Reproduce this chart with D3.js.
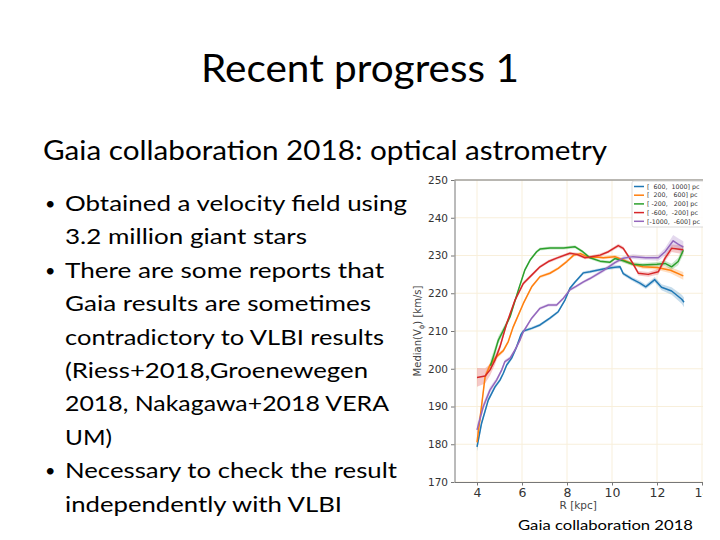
<!DOCTYPE html>
<html>
<head>
<meta charset="utf-8">
<script src="https://cdn.jsdelivr.net/npm/d3@7"></script>
<style>
  body { margin: 0; background: #fff; }
  svg { display: block; }
</style>
</head>
<body>
<svg id="slide" width="720" height="540"></svg>
<script>
// ---- slide text ----
const titleText = 'Recent progress 1';
const subtitleText = 'Gaia collaboration 2018: optical astrometry';
const bulletLines = [
  ['Obtained a velocity field using', true],
  ['3.2 million giant stars', false],
  ['There are some reports that', true],
  ['Gaia results are sometimes', false],
  ['contradictory to VLBI results', false],
  ['(Riess+2018,Groenewegen', false],
  ['2018, Nakagawa+2018 VERA', false],
  ['UM)', false],
  ['Necessary to check the result', true],
  ['independently with VLBI', false]
];
const creditText = 'Gaia collaboration 2018';

// ---- chart data ----
const seriesNames = ['[  600,  1000] pc', '[  200,   600] pc', '[ -200,   200] pc', '[ -600,  -200] pc', '[-1000,  -600] pc'];
const seriesColors = ['#1f77b4', '#ff7f0e', '#2ca02c', '#d62728', '#9467bd'];

const blueR = [4.0, 4.2, 4.5, 4.8, 5.02, 5.17, 5.32, 5.54, 5.76, 5.95, 6.06, 6.43, 6.8, 7.24, 7.61, 7.91, 8.13, 8.36, 8.73, 9.02, 9.61, 10.13, 10.36, 10.5, 10.88, 11.24, 11.5, 11.9, 12.2, 12.65, 13.1, 13.2];
const blueV = [179.3, 185.5, 191.7, 195.2, 197.0, 198.8, 201.0, 202.8, 205.8, 209.0, 210.0, 210.7, 211.6, 213.4, 215.1, 218.2, 221.3, 223.0, 225.4, 225.7, 226.4, 226.9, 227.0, 225.2, 223.8, 222.7, 221.7, 223.6, 221.6, 220.6, 218.4, 217.6];
const blueE = [1.2, 0.8, 0.6, 0.5, 0.5, 0.5, 0.5, 0.5, 0.5, 0.4, 0.4, 0.4, 0.4, 0.4, 0.4, 0.4, 0.4, 0.4, 0.4, 0.4, 0.4, 0.5, 0.5, 0.5, 0.5, 0.6, 0.6, 0.7, 0.8, 1.0, 1.2, 1.3];

const orangeR = [4.0, 4.2, 4.36, 4.58, 4.87, 5.17, 5.39, 5.61, 6.06, 6.43, 6.8, 7.24, 7.61, 7.99, 8.3, 8.6, 8.96, 9.33, 9.61, 10.13, 10.5, 10.93, 11.37, 12.0, 12.6, 13.17];
const orangeV = [180.5, 190.0, 197.9, 201.0, 203.2, 204.8, 207.2, 211.1, 217.3, 221.7, 224.4, 225.3, 226.6, 228.4, 230.1, 230.5, 229.5, 229.6, 229.4, 229.7, 228.8, 227.7, 227.0, 226.8, 226.1, 224.6];
const orangeE = [2.0, 1.2, 1.0, 0.8, 0.6, 0.5, 0.5, 0.5, 0.4, 0.4, 0.4, 0.4, 0.4, 0.4, 0.4, 0.4, 0.4, 0.4, 0.4, 0.4, 0.5, 0.5, 0.5, 0.6, 0.8, 1.0];

const greenR = [4.6, 4.78, 4.95, 5.2, 5.47, 5.84, 6.13, 6.36, 6.65, 6.8, 7.25, 7.85, 8.36, 8.7, 9.02, 9.47, 9.9, 10.13, 10.5, 10.93, 11.37, 12.0, 12.36, 12.65, 12.94, 13.17];
const greenV = [200.8, 204.2, 207.6, 210.5, 213.8, 220.9, 226.2, 228.8, 231.0, 231.7, 232.0, 232.0, 232.3, 231.0, 229.4, 228.5, 228.2, 229.2, 228.6, 227.7, 227.5, 227.7, 227.9, 227.0, 228.4, 231.4];
const greenE = [1.5, 1.2, 1.0, 0.8, 0.6, 0.5, 0.5, 0.4, 0.4, 0.4, 0.4, 0.4, 0.4, 0.4, 0.4, 0.4, 0.4, 0.4, 0.5, 0.5, 0.5, 0.6, 0.7, 0.8, 1.0, 1.2];

const redR = [4.0, 4.36, 4.58, 4.8, 5.02, 5.32, 5.69, 6.06, 6.43, 6.8, 7.17, 7.54, 8.13, 8.44, 8.8, 9.02, 9.47, 9.84, 10.28, 10.5, 10.88, 11.17, 11.61, 12.06, 12.36, 12.65, 13.17];
const redV = [197.7, 198.1, 199.7, 202.3, 205.8, 212.0, 218.2, 222.6, 224.8, 227.0, 228.4, 229.3, 230.6, 230.3, 229.4, 229.6, 230.1, 231.0, 232.6, 231.9, 228.4, 225.3, 225.0, 225.7, 229.3, 231.9, 231.5];
const redE = [2.5, 2.0, 1.5, 1.2, 0.8, 0.6, 0.5, 0.5, 0.4, 0.4, 0.4, 0.4, 0.4, 0.4, 0.4, 0.4, 0.4, 0.4, 0.5, 0.5, 0.5, 0.6, 0.6, 0.7, 0.8, 1.0, 1.2];

const purpleR = [4.0, 4.28, 4.58, 4.87, 5.1, 5.24, 5.47, 5.69, 5.91, 6.06, 6.43, 6.8, 7.17, 7.54, 7.84, 8.13, 8.4, 8.73, 9.02, 9.61, 10.13, 10.5, 10.93, 11.5, 12.06, 12.36, 12.72, 12.94, 13.17];
const purpleV = [183.8, 190.0, 194.4, 197.0, 199.7, 201.9, 202.8, 205.0, 207.6, 209.8, 213.4, 216.0, 216.9, 216.9, 218.7, 220.9, 221.8, 223.0, 223.9, 226.0, 228.1, 229.3, 229.7, 229.4, 229.4, 231.0, 233.9, 233.0, 232.2];
const purpleE = [1.5, 1.0, 0.8, 0.6, 0.5, 0.5, 0.5, 0.5, 0.5, 0.4, 0.4, 0.4, 0.4, 0.4, 0.4, 0.4, 0.4, 0.4, 0.4, 0.5, 0.5, 0.5, 0.6, 0.6, 0.8, 1.0, 1.5, 1.6, 1.6];

const xTicks = [4, 6, 8, 10, 12, 14];
const yTicks = [170, 180, 190, 200, 210, 220, 230, 240, 250];

const allR = [blueR, orangeR, greenR, redR, purpleR];
const allV = [blueV, orangeV, greenV, redV, purpleV];
const allE = [blueE, orangeE, greenE, redE, purpleE];

const slideFont = 'Lato, "Open Sans", sans-serif';
const plotFont = '"DejaVu Sans", sans-serif';

svg = d3.select('#slide');

// ---- slide text ----
svg.append('text')
  .attr('x', 360)
  .attr('y', 82)
  .attr('text-anchor', 'middle')
  .attr('textLength', 318)
  .attr('lengthAdjust', 'spacingAndGlyphs')
  .style('font-family', slideFont)
  .style('font-size', '38px')
  .style('fill', '#000')
  .text(titleText);

svg.append('text')
  .attr('x', 43)
  .attr('y', 160)
  .attr('textLength', 564)
  .attr('lengthAdjust', 'spacingAndGlyphs')
  .style('font-family', slideFont)
  .style('font-size', '27px')
  .style('fill', '#000')
  .text(subtitleText);

const lineWidths = [342, 242, 319, 306, 319, 303, 324, 47, 332, 277];
bulletLines.forEach(function(d, i){
  const y = 211 + i * 33.4;
  if(d[1]){
    svg.append('text')
      .attr('x', 45)
      .attr('y', y - 1)
      .style('font-family', slideFont)
      .style('font-size', '18px')
      .text('\u2022');
  }
  svg.append('text')
    .attr('x', 65)
    .attr('y', y)
    .attr('textLength', lineWidths[i])
    .attr('lengthAdjust', 'spacingAndGlyphs')
    .style('font-family', slideFont)
    .style('font-size', '22px')
    .style('fill', '#000')
    .text(d[0]);
});

svg.append('text')
  .attr('x', 518)
  .attr('y', 530)
  .attr('textLength', 175)
  .attr('lengthAdjust', 'spacingAndGlyphs')
  .style('font-family', slideFont)
  .style('font-size', '14px')
  .style('fill', '#000')
  .text(creditText);

// ---- chart ----
svg.append('defs')
  .append('clipPath')
  .attr('id', 'chart-clip')
  .append('rect')
  .attr('x', 395)
  .attr('y', 165)
  .attr('width', 308)
  .attr('height', 350);

const chart = svg.append('g')
  .attr('clip-path', 'url(#chart-clip)');

scaleX = d3.scaleLinear().domain([3, 14]).range([454.5, 702]);
scaleY = d3.scaleLinear().domain([170, 250]).range([482, 180]);

// grid
chart.append('g')
  .selectAll('line')
  .data(xTicks)
  .join('line')
  .attr('x1', function(d){ return scaleX(d); })
  .attr('x2', function(d){ return scaleX(d); })
  .attr('y1', scaleY(170))
  .attr('y2', scaleY(250))
  .style('stroke', '#f8efdb')
  .style('stroke-width', 1);

chart.append('g')
  .selectAll('line')
  .data(yTicks)
  .join('line')
  .attr('x1', scaleX(3))
  .attr('x2', scaleX(14) + 10)
  .attr('y1', function(d){ return scaleY(d); })
  .attr('y2', function(d){ return scaleY(d); })
  .style('stroke', '#f8efdb')
  .style('stroke-width', 1);

// bands then lines
const plotArea = chart.append('g');
allR.forEach(function(rs, s){
  const pts = rs.map(function(r, i){ return {r: r, v: allV[s][i], e: allE[s][i]}; });
  plotArea.append('path')
    .datum(pts)
    .attr('d', d3.area()
      .x(function(d){ return scaleX(d.r); })
      .y0(function(d){ return scaleY(d.v - d.e); })
      .y1(function(d){ return scaleY(d.v + d.e); }))
    .style('fill', seriesColors[s])
    .style('opacity', 0.25);
});
allR.forEach(function(rs, s){
  const pts = rs.map(function(r, i){ return {r: r, v: allV[s][i]}; });
  plotArea.append('path')
    .datum(pts)
    .attr('d', d3.line()
      .x(function(d){ return scaleX(d.r); })
      .y(function(d){ return scaleY(d.v); }))
    .style('fill', 'none')
    .style('stroke', seriesColors[s])
    .style('stroke-width', 1.5)
    .style('stroke-linejoin', 'round');
});

// axes
const xAxis = chart.append('g')
  .attr('transform', 'translate(0,' + scaleY(170) + ')')
  .call(d3.axisBottom(scaleX).tickValues(xTicks).tickSize(3.5).tickPadding(3).tickSizeOuter(0));
xAxis.selectAll('text')
  .style('font-family', plotFont)
  .style('font-size', '12.5px')
  .style('fill', '#333');

const yAxis = chart.append('g')
  .attr('transform', 'translate(' + scaleX(3) + ',0)')
  .call(d3.axisLeft(scaleY).tickValues(yTicks).tickSize(3.5).tickPadding(3).tickSizeOuter(0));
yAxis.selectAll('text')
  .style('font-family', plotFont)
  .style('font-size', '10.5px')
  .style('fill', '#333');

chart.selectAll('.domain, .tick line')
  .style('stroke', '#777');

chart.append('line')
  .attr('x1', scaleX(3))
  .attr('x2', scaleX(14) + 10)
  .attr('y1', scaleY(250))
  .attr('y2', scaleY(250))
  .style('stroke', '#777');

chart.append('text')
  .attr('x', (scaleX(3) + scaleX(14)) / 2)
  .attr('y', 509)
  .attr('text-anchor', 'middle')
  .style('font-family', plotFont)
  .style('font-size', '10.5px')
  .style('fill', '#444')
  .text('R [kpc]');

const yLab = chart.append('text')
  .attr('transform', 'translate(421,' + ((scaleY(170) + scaleY(250)) / 2) + ') rotate(-90)')
  .attr('text-anchor', 'middle')
  .style('font-family', plotFont)
  .style('font-size', '10px')
  .style('fill', '#444');
yLab.append('tspan').text('Median(V');
yLab.append('tspan').attr('dy', 2.5).style('font-size', '7px').text('\u03d5');
yLab.append('tspan').attr('dy', -2.5).text(') [km/s]');

// legend
const legend = chart.append('g');
legend.append('rect')
  .attr('x', 632)
  .attr('y', 181)
  .attr('width', 80)
  .attr('height', 46)
  .attr('rx', 2)
  .style('fill', '#fff')
  .style('fill-opacity', 0.85)
  .style('stroke', '#d0d0d0')
  .style('stroke-width', 0.8);

seriesNames.forEach(function(name, i){
  const y = 186.5 + i * 8.7;
  legend.append('line')
    .attr('x1', 634)
    .attr('x2', 644)
    .attr('y1', y)
    .attr('y2', y)
    .style('stroke', seriesColors[i])
    .style('stroke-width', 1.5);
  legend.append('text')
    .attr('x', 647)
    .attr('y', y)
    .attr('dy', '0.35em')
    .style('font-family', plotFont)
    .style('font-size', '6.3px')
    .style('fill', '#333')
    .style('white-space', 'pre')
    .text(name);
});
</script>
</body>
</html>
